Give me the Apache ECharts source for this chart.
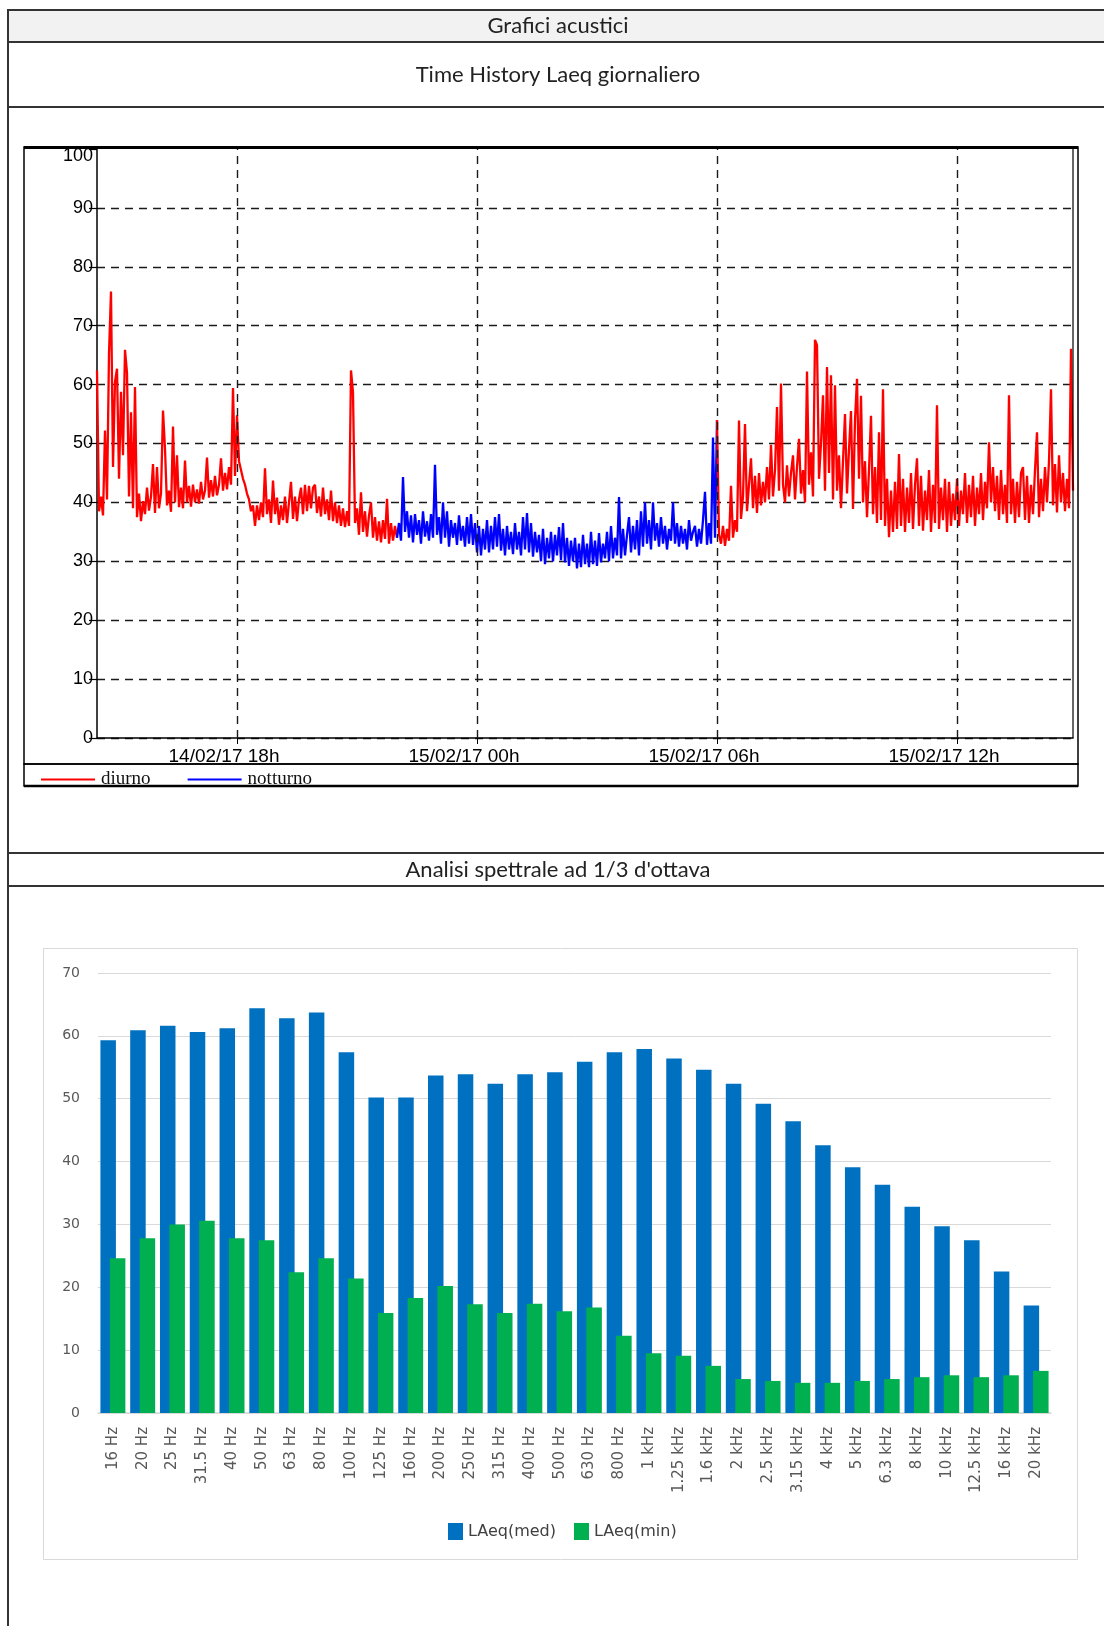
<!DOCTYPE html>
<html><head><meta charset="utf-8">
<script src="https://cdn.jsdelivr.net/npm/echarts@6/dist/echarts.min.js"></script>
<style>html,body{margin:0;padding:0;background:#fff}#c{width:1104px;height:1626px}</style>
</head><body><div id="c"></div>
<script>
// ---------- DATA ----------
const headerTitles = ['Grafici acustici', 'Time History Laeq giornaliero', "Analisi spettrale ad 1/3 d'ottava"];

// Time history: hours since 14/02/17 00:00, one reading every 3 minutes
const timeStepMin = 3;
const diurnoAStart = 14.5;   // 14/02/17 14:30
const notturnoStart = 22;    // 14/02/17 22:00
const diurnoBStart = 30;     // 15/02/17 06:00
const timeMin = 14.5;
const timeMax = 38.9;        // 15/02/17 14:54

const diurnoA = [
62.4,38.5,41.0,37.8,52.2,40.5,65.3,75.8,46.0,60.5,62.7,44.0,58.8,48.0,65.9,62.0,41.0,55.3,39.0,59.6,
37.5,41.5,36.8,40.2,38.0,42.5,38.6,41.0,46.5,38.2,46.0,39.0,41.5,55.6,49.1,39.5,42.0,38.4,52.9,40.0,
48.0,39.2,42.5,39.0,47.1,40.0,42.8,39.3,43.0,40.0,42.2,39.8,43.5,40.5,42.0,47.6,40.8,43.8,41.0,44.5,
41.2,43.0,47.5,42.0,45.0,42.2,46.0,43.0,59.4,44.5,54.8,47.0,45.5,44.0,43.0,41.5,40.5,38.5,39.5,36.0,
39.5,37.0,40.0,37.5,45.8,38.0,40.5,36.5,43.7,38.0,40.8,36.2,39.5,37.0,41.0,36.5,40.0,43.5,37.2,41.0,
36.8,40.5,42.5,38.0,43.0,38.5,42.8,39.0,42.5,43.0,38.2,41.0,37.6,42.5,38.0,40.5,37.0,42.0,36.8,40.0,
36.5,39.5,36.0,39.0,35.8,38.5,36.0,62.4,58.7,36.5,39.0,34.5,41.7,35.0,38.5,34.2,37.8,40.0,34.0,37.5,
33.5,36.8,33.2,37.0,33.8,40.6,33.0,36.5,33.5,36.0,34.0
];
const notturno = [
34.0,36.5,33.5,44.3,35.0,38.5,34.0,37.8,33.2,38.0,34.5,37.0,33.0,38.5,34.2,36.8,33.5,38.0,34.0,46.4,
34.5,37.5,33.0,40.0,34.0,38.5,32.5,37.0,34.0,36.5,32.8,37.8,33.5,36.0,32.5,37.5,33.0,38.0,32.8,36.5,
31.5,36.0,31.0,35.5,32.0,37.0,31.5,36.0,32.0,37.5,32.5,38.0,31.8,35.5,31.0,36.0,32.0,35.0,31.2,36.5,
32.0,35.0,31.0,37.5,32.0,38.2,31.5,36.5,30.8,35.0,31.5,34.5,30.0,35.5,29.5,34.0,30.5,35.0,30.0,34.5,
31.0,35.8,30.2,36.5,29.8,34.0,29.2,33.5,30.0,34.0,28.8,33.0,29.0,34.5,29.5,33.0,29.0,35.0,29.5,33.5,
29.2,34.8,29.8,33.0,30.5,35.0,30.0,36.0,30.5,34.0,31.0,40.9,30.5,35.5,31.0,34.5,37.5,31.5,36.0,32.0,
37.0,31.0,38.5,32.5,40.0,33.0,37.0,32.0,40.0,33.5,36.5,32.5,37.5,33.0,36.0,32.0,35.5,33.5,40.0,33.0,
36.5,32.5,36.0,33.0,35.5,32.0,37.0,33.5,35.0,36.0,32.5,35.5,33.0,37.0,41.8,32.8,36.5,33.0,51.0,34.0,
54.0
];
const diurnoB = [
54.0,34.5,33.0,36.0,32.6,35.5,33.5,42.8,34.0,37.0,35.0,53.9,37.2,41.0,53.3,38.5,43.0,47.5,39.0,44.5,
38.2,45.0,39.5,43.5,40.0,46.0,40.5,49.8,41.0,45.5,56.2,42.0,60.2,43.0,40.0,46.3,41.0,45.0,48.0,40.5,
46.0,50.8,41.5,45.5,40.0,62.2,43.0,48.5,41.0,67.6,66.7,44.0,50.0,58.2,42.0,63.0,45.0,61.6,40.5,59.9,
42.0,48.0,39.0,47.0,55.0,41.5,49.0,55.5,38.9,54.0,61.0,44.0,58.1,40.0,47.0,37.5,45.5,54.7,38.0,46.0,
36.5,51.9,37.0,59.2,36.0,44.0,34.1,42.0,35.0,43.5,35.5,48.2,36.0,44.0,35.0,42.5,36.5,45.0,35.5,43.0,
47.5,36.0,44.5,35.2,42.0,37.0,45.5,35.0,43.0,36.5,56.5,35.5,42.5,37.0,44.0,35.0,43.5,36.0,41.5,37.0,
44.0,36.0,42.0,38.0,45.0,36.5,43.0,37.5,44.5,36.0,42.5,38.0,45.0,37.0,43.5,39.0,50.2,40.0,46.0,38.5,
44.5,37.0,45.5,38.0,43.0,36.5,58.2,38.0,44.0,36.5,43.5,37.5,45.0,46.0,37.0,44.5,36.5,43.0,38.0,45.5,
51.9,37.5,44.0,38.5,46.0,40.0,47.0,59.2,39.5,46.5,38.3,48.0,40.0,45.0,38.5,44.0,39.0,66.1,42.0
];
const timeTicks = [18, 24, 30, 36];
const timeTickLabels = ['14/02/17 18h', '15/02/17 00h', '15/02/17 06h', '15/02/17 12h'];
const levelTicks = [0, 100, 10];

// 1/3 octave spectrum
const bandCategories = ['16 Hz','20 Hz','25 Hz','31.5 Hz','40 Hz','50 Hz','63 Hz','80 Hz','100 Hz','125 Hz',
'160 Hz','200 Hz','250 Hz','315 Hz','400 Hz','500 Hz','630 Hz','800 Hz','1 kHz','1.25 kHz','1.6 kHz','2 kHz',
'2.5 kHz','3.15 kHz','4 kHz','5 kHz','6.3 kHz','8 kHz','10 kHz','12.5 kHz','16 kHz','20 kHz'];
const laeqMed = [59.3,60.9,61.6,60.6,61.2,64.4,62.8,63.7,57.4,50.2,50.2,53.7,53.9,52.4,53.9,54.2,
55.9,57.4,57.9,56.4,54.6,52.4,49.2,46.4,42.6,39.1,36.3,32.8,29.7,27.5,22.5,17.1];
const laeqMin = [24.6,27.8,30.0,30.6,27.8,27.5,22.4,24.6,21.4,15.9,18.3,20.2,17.3,15.9,17.4,16.2,
16.8,12.3,9.5,9.1,7.5,5.4,5.1,4.8,4.8,5.1,5.4,5.7,6.0,5.7,6.0,6.7];
const spectrumTicks = [0, 70, 10];

// ---------- CHART ----------
const toPairs = (arr, start) => arr.map((v, i) => [start + i * timeStepMin / 60, v]);
const dash = [8, 6];
const lineC = '#333';
const traceW = 2.3;

const chart = echarts.init(document.getElementById('c'), null, {renderer: 'canvas'});
const hline = (y, x1, x2, w, c) => ({type: 'line', z: 100, shape: {x1: x1, y1: y, x2: x2, y2: y}, style: {stroke: c || lineC, lineWidth: w || 2}});
const vline = (x, y1, y2, w, c) => ({type: 'line', z: 100, shape: {x1: x, y1: y1, x2: x, y2: y2}, style: {stroke: c || lineC, lineWidth: w || 2}});
const htext = (t, y) => ({type: 'text', z: 100, x: 558, y: y, style: {text: t, fill: '#222', font: '22px Lato, "Open Sans", sans-serif', textAlign: 'center', textVerticalAlign: 'middle'}});

chart.setOption({
  animation: false,
  graphic: [
    {type: 'rect', z: 0, shape: {x: 9, y: 11, width: 1095, height: 31}, style: {fill: '#f2f2f2'}},
    vline(8, 9, 1626),
    hline(10, 8, 1104), hline(42, 8, 1104), hline(107, 8, 1104), hline(853, 8, 1104), hline(886, 8, 1104),
    htext(headerTitles[0], 26), htext(headerTitles[1], 75), htext(headerTitles[2], 870),
    // time-history frame
    {type: 'rect', z: 100, shape: {x: 24, y: 147, width: 1054, height: 617}, style: {fill: null, stroke: '#000', lineWidth: 1.5}},
    hline(147.5, 24, 1078, 3, '#000'),
    vline(1073, 147, 738, 1.2, '#000'),
    {type: 'rect', z: 100, shape: {x: 24, y: 764, width: 1054, height: 22}, style: {fill: null, stroke: '#000', lineWidth: 1.5}},
    hline(786, 24, 1078, 2.5, '#000'),
    // spectrum frame
    {type: 'rect', z: 100, shape: {x: 43.5, y: 948.5, width: 1034, height: 611}, style: {fill: null, stroke: '#d9d9d9', lineWidth: 1}}
  ],
  legend: [
    {
      data: ['diurno', 'notturno'], left: 36, top: 765, icon: 'rect', itemWidth: 54, itemHeight: 2, itemGap: 37,
      textStyle: {fontFamily: '"Liberation Serif", serif', fontSize: 19, color: '#111', padding: [0, 0, 0, 1]}
    },
    {
      data: ['LAeq(med)', 'LAeq(min)'], left: 443, top: 1518, icon: 'rect', itemWidth: 15, itemHeight: 17, itemGap: 18,
      textStyle: {fontFamily: '"DejaVu Sans", sans-serif', fontSize: 16, color: '#404040'}
    }
  ],
  grid: [
    {left: 97, top: 149, width: 976, height: 589},
    {left: 98, top: 973, width: 953, height: 440}
  ],
  xAxis: [
    {
      gridIndex: 0, type: 'value', min: timeMin, max: timeMax,
      axisLine: {lineStyle: {color: '#000', width: 1.5}},
      axisTick: {show: true, length: 6, lineStyle: {color: '#000'}, customValues: timeTicks},
      axisLabel: {
        customValues: timeTicks, margin: 9, color: '#000', fontSize: 19,
        fontFamily: '"Liberation Sans", Arial, sans-serif', padding: [0, 26, 0, 0],
        formatter: v => timeTickLabels[timeTicks.indexOf(v)] || ''
      },
      splitLine: {show: false}
    },
    {
      gridIndex: 1, type: 'category', data: bandCategories,
      axisLine: {lineStyle: {color: '#d9d9d9', width: 1.5}},
      axisTick: {show: false},
      axisLabel: {rotate: 90, margin: 14, color: '#595959', fontSize: 15, fontFamily: '"DejaVu Sans", sans-serif', interval: 0}
    }
  ],
  yAxis: [
    {
      gridIndex: 0, type: 'value', min: levelTicks[0], max: levelTicks[1], interval: levelTicks[2],
      axisLine: {show: true, lineStyle: {color: '#000', width: 1.5}},
      axisTick: {show: true, length: 8, lineStyle: {color: '#000', width: 1.2}},
      axisLabel: {
        margin: 4, color: '#000', fontSize: 18, fontFamily: '"Liberation Sans", Arial, sans-serif',
        formatter: v => v === levelTicks[1] ? '{top|' + v + '}' : String(v),
        rich: {top: {fontSize: 18, fontFamily: '"Liberation Sans", Arial, sans-serif', color: '#000', padding: [14, 0, 0, 0]}}
      },
      splitLine: {show: true, showMaxLine: false, lineStyle: {color: '#1a1a1a', type: dash, width: 1.4}}
    },
    {
      gridIndex: 1, type: 'value', min: spectrumTicks[0], max: spectrumTicks[1], interval: spectrumTicks[2],
      axisLine: {show: false}, axisTick: {show: false},
      axisLabel: {margin: 18, color: '#595959', fontSize: 14, fontFamily: '"DejaVu Sans", sans-serif'},
      splitLine: {lineStyle: {color: '#d9d9d9', width: 1}}
    }
  ],
  series: [
    {
      name: 'diurno', type: 'line', xAxisIndex: 0, yAxisIndex: 0, data: toPairs(diurnoA, diurnoAStart),
      symbol: 'none', lineStyle: {color: '#ff0000', width: traceW}, itemStyle: {color: '#ff0000'},
      markLine: {
        silent: true, symbol: 'none', label: {show: false},
        lineStyle: {color: '#1a1a1a', type: dash, width: 1.4},
        data: timeTicks.map(t => ({xAxis: t}))
      }
    },
    {
      name: 'notturno', type: 'line', xAxisIndex: 0, yAxisIndex: 0, data: toPairs(notturno, notturnoStart),
      symbol: 'none', lineStyle: {color: '#0000ff', width: traceW}, itemStyle: {color: '#0000ff'}
    },
    {
      name: 'diurno', type: 'line', xAxisIndex: 0, yAxisIndex: 0, data: toPairs(diurnoB, diurnoBStart),
      symbol: 'none', lineStyle: {color: '#ff0000', width: traceW}, itemStyle: {color: '#ff0000'}
    },
    {
      name: 'LAeq(med)', type: 'bar', xAxisIndex: 1, yAxisIndex: 1, data: laeqMed,
      barWidth: 15.5, barGap: '-39%', itemStyle: {color: '#0070c0'}
    },
    {
      name: 'LAeq(min)', type: 'bar', xAxisIndex: 1, yAxisIndex: 1, data: laeqMin,
      barWidth: 15.5, barGap: '-39%', itemStyle: {color: '#00b050'}
    }
  ]
});
</script>
</body></html>
